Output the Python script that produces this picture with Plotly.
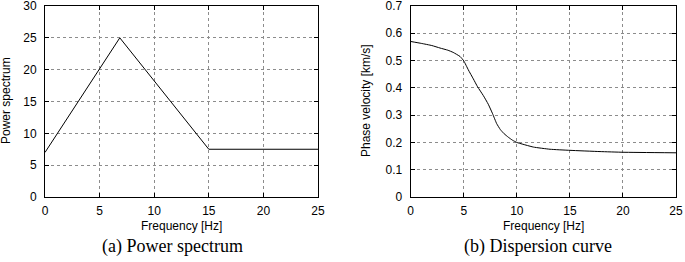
import plotly.graph_objects as go

# Power spectrum data
ps_freq = [0, 6.85, 15, 25]
ps_power = [7, 25, 7.5, 7.5]

# Dispersion curve data
dc_freq = [0, 1, 2, 2.76, 3.5, 4.0, 4.65, 5.0, 5.43, 5.9, 6.3, 6.84, 7.31, 7.72, 8.1, 8.45,
           8.8, 9.2, 9.6, 10, 11.56, 13.13, 15, 17.84, 20, 25]
dc_vel = [0.570, 0.563, 0.555, 0.546, 0.538, 0.530, 0.515, 0.499, 0.466, 0.433, 0.404, 0.372,
          0.340, 0.305, 0.269, 0.247, 0.232, 0.219, 0.208, 0.200, 0.183, 0.175, 0.171, 0.1665,
          0.164, 0.162]

x_ticks = [0, 5, 10, 15, 20, 25]
x_ticktext = ["0", "5", "10", "15", "20", "25"]
ps_yticks = [0, 5, 10, 15, 20, 25, 30]
ps_ytext = ["0", "5", "10", "15", "20", "25", "30"]
dc_yticks = [0, 0.1, 0.2, 0.3, 0.4, 0.5, 0.6, 0.7]
dc_ytext = ["0", "0.1", "0.2", "0.3", "0.4", "0.5", "0.6", "0.7"]

W, H = 685, 262
ML, MR, MT, MB = 45, 9, 6, 65
PW, PH = W - ML - MR, H - MT - MB
FONT = "Liberation Sans, Arial, sans-serif"
SERIF = "Liberation Serif, Times New Roman, serif"


def px_x(p):
    return (p - ML) / PW


def px_y(p):
    return (MT + PH - p) / PH


fig = go.Figure()
fig.add_trace(go.Scatter(x=ps_freq, y=ps_power, mode="lines",
                         line=dict(color="black", width=1), xaxis="x", yaxis="y",
                         showlegend=False))
fig.add_trace(go.Scatter(x=dc_freq, y=dc_vel, mode="lines",
                         line=dict(color="black", width=1, shape="spline", smoothing=0.4),
                         xaxis="x2", yaxis="y2", showlegend=False))

axis_common = dict(showline=True, linecolor="black", linewidth=1, mirror="ticks",
                   ticks="inside", ticklen=4, tickcolor="black",
                   showgrid=True, gridcolor="#8c8c8c", griddash="dot", gridwidth=1,
                   zeroline=False, ticklabeloverflow="allow",
                   tickfont=dict(family=FONT, size=12, color="black"))

fig.update_layout(
    width=W, height=H,
    margin=dict(l=ML, r=MR, t=MT, b=MB, autoexpand=False),
    paper_bgcolor="white", plot_bgcolor="white",
    font=dict(family=FONT, size=12, color="black"),
    xaxis=dict(domain=[0, px_x(318)], range=[0, 25], tickvals=x_ticks, ticktext=x_ticktext,
               anchor="y", ticklabelstandoff=3, **axis_common),
    yaxis=dict(domain=[0, 1], range=[0, 30], tickvals=ps_yticks, ticktext=ps_ytext,
               anchor="x", ticklabelstandoff=5, **axis_common),
    xaxis2=dict(domain=[px_x(410.7), 1], range=[0, 25], tickvals=x_ticks, ticktext=x_ticktext,
                anchor="y2", ticklabelstandoff=3, **axis_common),
    yaxis2=dict(domain=[0, 1], range=[0, 0.7], tickvals=dc_yticks, ticktext=dc_ytext,
                anchor="x2", ticklabelstandoff=5, **axis_common),
    annotations=[
        dict(text="Frequency [Hz]", x=px_x(181.5), y=px_y(226), xref="paper", yref="paper",
             showarrow=False, xanchor="center", yanchor="middle", font=dict(size=12)),
        dict(text="Frequency [Hz]", x=px_x(543.3), y=px_y(226), xref="paper", yref="paper",
             showarrow=False, xanchor="center", yanchor="middle", font=dict(size=12)),
        dict(text="Power spectrum", x=px_x(6), y=px_y(101), xref="paper", yref="paper",
             showarrow=False, xanchor="center", yanchor="middle", textangle=-90, font=dict(size=12)),
        dict(text="Phase velocity [km/s]", x=px_x(366), y=px_y(101), xref="paper", yref="paper",
             showarrow=False, xanchor="center", yanchor="middle", textangle=-90, font=dict(size=12)),
        dict(text="(a) Power spectrum", x=px_x(172), y=px_y(246), xref="paper", yref="paper",
             showarrow=False, xanchor="center", yanchor="middle", font=dict(family=SERIF, size=18)),
        dict(text="(b) Dispersion curve", x=px_x(538), y=px_y(246), xref="paper", yref="paper",
             showarrow=False, xanchor="center", yanchor="middle", font=dict(family=SERIF, size=18)),
    ],
)

fig.write_html("out.html", config={"displayModeBar": False},
               post_script="document.body.style.margin='0';document.body.style.padding='0';")
